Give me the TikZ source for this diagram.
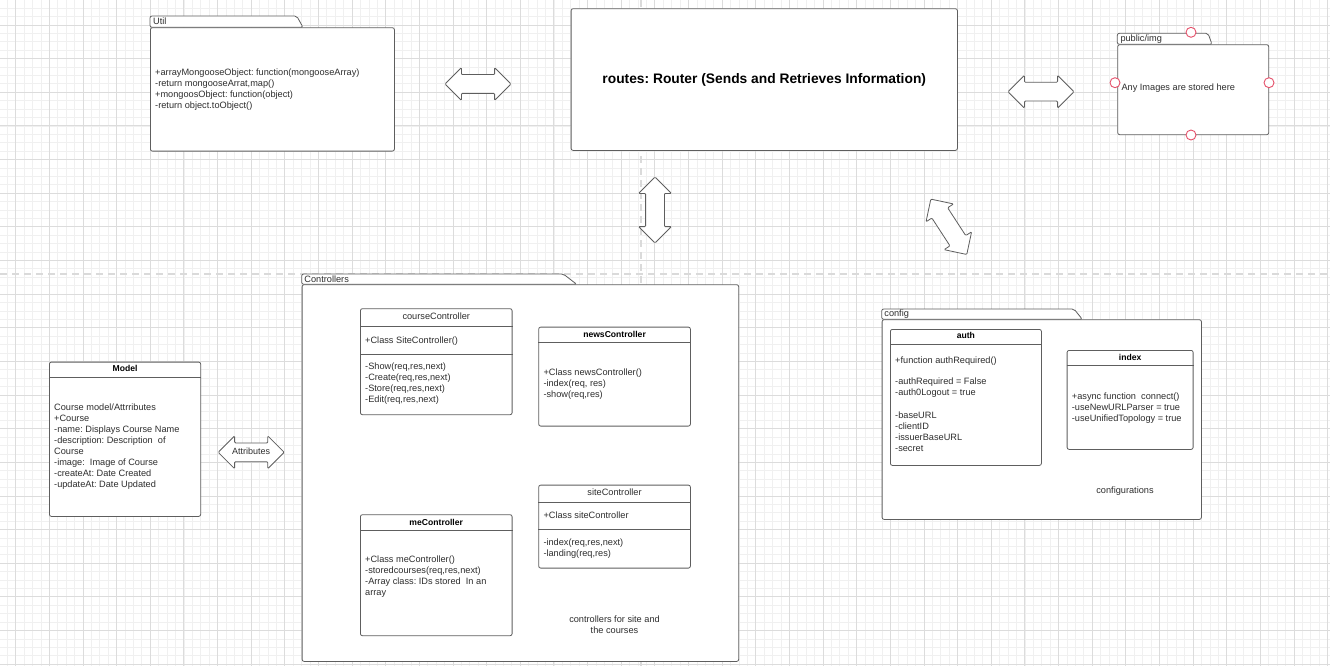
\documentclass[tikz,border=0pt]{standalone}
\usepackage{fontspec}
\setmainfont{Liberation Sans}
\usepackage{xcolor}
\usepackage{tikz}
\usetikzlibrary{shapes.arrows,positioning,calc}

\definecolor{lineg}{HTML}{5E5E5E}
\definecolor{textg}{HTML}{2E2E2E}
\definecolor{minorg}{HTML}{F0F0F0}
\definecolor{majorg}{HTML}{DCDCDC}
\definecolor{axisg}{HTML}{DADADA}
\definecolor{portred}{HTML}{E5506A}
\frenchspacing

\begin{document}
\begin{tikzpicture}[x=1pt,y=-1pt,
  box/.style={draw=lineg,fill=white,rounded corners=2pt,line width=.8pt,inner sep=0,anchor=north west},
  tab/.style={draw=lineg,fill=white,rounded corners=2pt,line width=.8pt},
  sepline/.style={draw=lineg,line width=.8pt},
  txt/.style={font=\fontsize{9.2}{11}\selectfont,text=textg,align=left,anchor=north west,inner sep=0},
  flab/.style={font=\fontsize{9.2}{11}\selectfont,text=textg,anchor=west,inner sep=0},
  ctitle/.style={font=\fontsize{9.2}{11}\selectfont,text=textg,inner sep=0},
  btitle/.style={font=\bfseries\fontsize{8.6}{10}\selectfont,text=black,inner sep=0},
  dblarrow/.style={double arrow,draw=lineg,fill=white,line width=.8pt,
    inner xsep=0,inner ysep=5pt,text height=6pt,text depth=2pt,
    minimum height=66pt,double arrow head extend=7pt,rounded corners=1pt,
    font=\fontsize{9}{10}\selectfont,text=textg},
  port/.style={circle,draw=portred,fill=white,line width=.9pt,minimum size=10pt,inner sep=0}
]
  \useasboundingbox (0,0) rectangle (1330,666);
  \fill[white] (0,0) rectangle (1330,666);
  \foreach \k in {0,...,157}
    \draw[minorg,line width=.8pt] ({7.29+8.41*\k},0) -- ({7.29+8.41*\k},666);
  \foreach \k in {0,...,78}
    \draw[minorg,line width=.8pt] (0,{8.18+8.41*\k}) -- (1330,{8.18+8.41*\k});
  \foreach \k in {0,...,39}
    \draw[majorg,line width=.9pt] ({15.7+33.64*\k},0) -- ({15.7+33.64*\k},666);
  \foreach \k in {0,...,19}
    \draw[majorg,line width=.9pt] (0,{25+33.64*\k}) -- (1330,{25+33.64*\k});
  \draw[axisg,line width=2pt,dash pattern=on 7pt off 5pt] (0,274) -- (1330,274);
  \draw[axisg,line width=2pt,dash pattern=on 7pt off 5pt] (640.7,0) -- (640.7,666);

  \node[box,minimum width=244pt,minimum height=123.4pt] (util) at (150,27.3) {};
  \draw[tab] (util.north west) -- ++(0,-11.3) -- ++(146.7,0) -- ++(6.3,11.3) -- cycle;
  \node[flab] at ([xshift=3pt,yshift=6.3pt]util.north west) {Util};
  \node[txt] at ([xshift=5pt,yshift=-40.9pt]util.north west)
    {+arrayMongooseObject: function(mongooseArray)\\-return mongooseArrat,map()\\
     +mongoosObject: function(object)\\-return object.toObject()};

  \node[box,minimum width=386.3pt,minimum height=141.7pt,
    font=\bfseries\fontsize{13.8}{16}\selectfont] (router) at (570.7,8.3)
    {routes: Router (Sends and Retrieves Information)};

  \node[box,minimum width=151pt,minimum height=90pt] (pub) at (1117.3,44.3) {};
  \draw[tab] (pub.north west) -- ++(0,-11) -- ++(90.7,0) -- ++(4,11) -- cycle;
  \node[flab] at ([xshift=3pt,yshift=5.6pt]pub.north west) {public/img};
  \node[flab] at ([xshift=4pt,yshift=-43.7pt]pub.north west) {Any Images are stored here};
  \node[port] (pt) at (1191,32.3) {};
  \node[port] (pl) at (1115,82.7) {};
  \node[port] (pr) at (1269,82.7) {};
  \node[port] (pb) at (1191,135) {};

  \node[box,minimum width=151.3pt,minimum height=154.3pt] (model) at (49,361.7) {};
  \draw[sepline] ([yshift=-16pt]model.north west) -- ([yshift=-16pt]model.north east);
  \node[btitle] at ([yshift=-7pt]model.north) {Model};
  \node[txt] at ([xshift=5pt,yshift=-41.5pt]model.north west)
    {Course model/Attrributes\\+Course\\-name: Displays Course Name\\
     -description: Description\ \ of\\Course\\-image:\ \ Image of Course\\
     -createAt: Date Created\\-updateAt: Date Updated};

  \node[box,minimum width=436.6pt,minimum height=376.7pt] (ctrl) at (301.7,284.3) {};
  \draw[tab] (ctrl.north west) -- ++(0,-10.3) -- ++(261.6,0) -- ++(13.4,10.3) -- cycle;
  \node[flab] at ([xshift=2.5pt,yshift=5.3pt]ctrl.north west) {Controllers};

  \node[box,minimum width=151.7pt,minimum height=106pt] (course) at (360,308.3) {};
  \draw[sepline] ([yshift=-18.4pt]course.north west) -- ([yshift=-18.4pt]course.north east);
  \draw[sepline] ([yshift=-45.7pt]course.north west) -- ([yshift=-45.7pt]course.north east);
  \node[ctitle] at ([yshift=-8.4pt]course.north) {courseController};
  \node[txt] at ([xshift=5pt,yshift=-28.2pt]course.north west) {+Class SiteController()};
  \node[txt] at ([xshift=5pt,yshift=-53.9pt]course.north west)
    {-Show(req,res,next)\\-Create(req,res,next)\\-Store(req,res,next)\\-Edit(req,res,next)};

  \node[box,minimum width=151.7pt,minimum height=99pt] (news) at (538.3,326.7) {};
  \draw[sepline] ([yshift=-16pt]news.north west) -- ([yshift=-16pt]news.north east);
  \node[btitle] at ([yshift=-7.3pt]news.north) {newsController};
  \node[txt] at ([xshift=5pt,yshift=-41.5pt]news.north west)
    {+Class newsController()\\-index(req, res)\\-show(req,res)};

  \node[box,minimum width=151.7pt,minimum height=121pt] (me) at (360,514.3) {};
  \draw[sepline] ([yshift=-15.7pt]me.north west) -- ([yshift=-15.7pt]me.north east);
  \node[btitle] at ([yshift=-8pt]me.north) {meController};
  \node[txt] at ([xshift=5pt,yshift=-41.2pt]me.north west)
    {+Class meController()\\-storedcourses(req,res,next)\\-Array class: IDs stored\ \ In an\\array};

  \node[box,minimum width=151.7pt,minimum height=83pt] (site) at (538.3,484.7) {};
  \draw[sepline] ([yshift=-18pt]site.north west) -- ([yshift=-18pt]site.north east);
  \draw[sepline] ([yshift=-44.6pt]site.north west) -- ([yshift=-44.6pt]site.north east);
  \node[ctitle] at ([yshift=-8pt]site.north) {siteController};
  \node[txt] at ([xshift=5pt,yshift=-26.8pt]site.north west) {+Class siteController};
  \node[txt] at ([xshift=5pt,yshift=-54.1pt]site.north west)
    {-index(req,res,next)\\-landing(req,res)};

  \node[txt,align=center,anchor=center] at (614.5,624.3) {controllers for site and\\the courses};

  \node[box,minimum width=319.3pt,minimum height=199.7pt] (config) at (881.7,319.3) {};
  \draw[tab] (config.north west) -- ++(0,-10.3) -- ++(192.3,0) -- ++(8.3,10.3) -- cycle;
  \node[flab] at ([xshift=2.5pt,yshift=5.3pt]config.north west) {config};

  \node[box,minimum width=151pt,minimum height=136pt] (auth) at (890,329) {};
  \draw[sepline] ([yshift=-15.3pt]auth.north west) -- ([yshift=-15.3pt]auth.north east);
  \node[btitle] at ([yshift=-6.7pt]auth.north) {auth};
  \node[txt] at ([xshift=5pt,yshift=-27.5pt]auth.north west)
    {+function authRequired()\\[10pt]-authRequired = False\\-auth0Logout = true\\[12.5pt]
     -baseURL\\-clientID\\-issuerBaseURL\\-secret};

  \node[box,minimum width=126pt,minimum height=99pt] (index) at (1066.7,350) {};
  \draw[sepline] ([yshift=-15.7pt]index.north west) -- ([yshift=-15.7pt]index.north east);
  \node[btitle] at ([yshift=-7.3pt]index.north) {index};
  \node[txt] at ([xshift=5pt,yshift=-42.5pt]index.north west)
    {+async function\ \ connect()\\-useNewURLParser = true\\-useUnifiedTopology = true};

  \node[txt,anchor=center] at (1125,490.7) {configurations};

  \node[dblarrow] (aur) at (478,84) {};
  \node[dblarrow] (arp) at (1041,91.7) {};
  \node[dblarrow,rotate=90] (arc) at (655,210) {};
  \node[dblarrow,rotate=-57] (arf) at (948.8,226.8) {};
  \node[dblarrow] (amc) at (251.2,452.3) {Attributes};
\end{tikzpicture}
\end{document}
